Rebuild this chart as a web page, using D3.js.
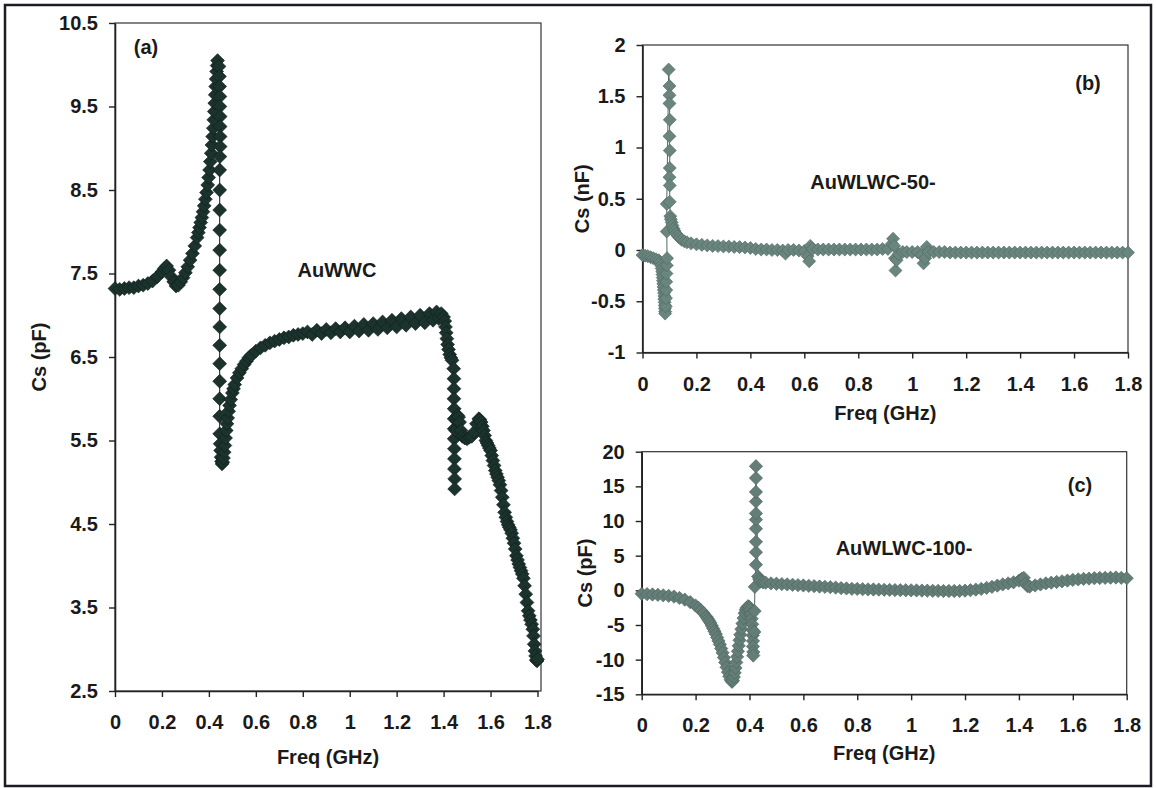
<!DOCTYPE html>
<html>
<head>
<meta charset="utf-8">
<script src="https://cdn.jsdelivr.net/npm/d3@7"></script>
<style>
  body { margin: 0; background: #fff; }
  svg text { font-family: "Liberation Sans", Arial, sans-serif; font-weight: bold; fill: #1a1a1a; }
</style>
</head>
<body>
<svg width="1156" height="788"></svg>
<script>
// ---- data ----
const freqTicks = [0, 0.2, 0.4, 0.6, 0.8, 1, 1.2, 1.4, 1.6, 1.8];

// (a) AuWWC, Cs in pF
const yTicksA = [2.5, 3.5, 4.5, 5.5, 6.5, 7.5, 8.5, 9.5, 10.5];
const freqA = [0, 0.02, 0.04, 0.06, 0.08, 0.10, 0.12, 0.14, 0.16, 0.18, 0.20, 0.21, 0.22, 0.23, 0.24, 0.25, 0.26, 0.27, 0.28, 0.29,
  0.30, 0.31, 0.32, 0.33, 0.34, 0.35, 0.355, 0.36, 0.365, 0.37, 0.375, 0.38, 0.385, 0.39, 0.395, 0.399, 0.403, 0.406, 0.41,
  0.413, 0.416, 0.419, 0.421, 0.423, 0.425, 0.427, 0.429, 0.431, 0.433, 0.435, 0.437,
  0.443, 0.445, 0.446, 0.447, 0.447, 0.448, 0.448, 0.448, 0.448, 0.447,
  0.446, 0.446, 0.446, 0.446, 0.446, 0.446, 0.446, 0.446, 0.446, 0.446, 0.446, 0.446, 0.446, 0.446, 0.446,
  0.448, 0.450, 0.452, 0.454, 0.456, 0.459, 0.462, 0.465, 0.468, 0.471, 0.474, 0.477, 0.48, 0.484, 0.488, 0.493, 0.50, 0.505,
  0.51, 0.52, 0.53, 0.54, 0.55, 0.56, 0.57,
  0.58, 0.60, 0.62, 0.64, 0.66, 0.68, 0.70, 0.72, 0.74, 0.76, 0.78, 0.80, 0.82, 0.84, 0.86, 0.88, 0.90, 0.92, 0.94, 0.96, 0.98,
  1.00, 1.02, 1.04, 1.06, 1.08, 1.10, 1.12, 1.14, 1.16, 1.18, 1.20, 1.22, 1.24, 1.26, 1.28, 1.30, 1.32, 1.34, 1.355, 1.37, 1.38,
  1.39, 1.40, 1.405, 1.408, 1.411, 1.414, 1.417, 1.421, 1.426, 1.431, 1.436,
  1.443, 1.444, 1.444, 1.444, 1.445, 1.445, 1.445, 1.445, 1.446, 1.446, 1.446, 1.447, 1.447,
  1.452, 1.456, 1.460, 1.464, 1.468, 1.474, 1.48, 1.49, 1.50, 1.51, 1.52, 1.53, 1.54, 1.55, 1.555, 1.56, 1.565, 1.57, 1.575,
  1.58, 1.585, 1.59, 1.595, 1.60, 1.605, 1.61, 1.615, 1.62, 1.625, 1.63, 1.635, 1.64, 1.645, 1.65, 1.655, 1.66, 1.665, 1.67,
  1.675, 1.68, 1.685, 1.69, 1.695, 1.70, 1.705, 1.71, 1.715, 1.72, 1.725, 1.73, 1.735, 1.74, 1.745, 1.75, 1.755, 1.76, 1.765,
  1.77, 1.775, 1.78, 1.783, 1.786, 1.789, 1.792, 1.795, 1.798, 1.80];
const csA = [7.32, 7.31, 7.32, 7.33, 7.33, 7.35, 7.36, 7.38, 7.41, 7.46, 7.52, 7.56, 7.59, 7.54, 7.46, 7.40, 7.35, 7.36, 7.40, 7.45,
  7.51, 7.58, 7.66, 7.74, 7.83, 7.93, 7.99, 8.05, 8.11, 8.17, 8.24, 8.31, 8.39, 8.47, 8.56, 8.65, 8.74, 8.84, 8.94,
  9.04, 9.14, 9.24, 9.34, 9.44, 9.54, 9.64, 9.74, 9.83, 9.92, 9.99, 10.05,
  9.98, 9.86, 9.74, 9.62, 9.50, 9.38, 9.26, 9.14, 9.02, 8.90,
  8.74, 8.50, 8.26, 8.02, 7.78, 7.54, 7.31, 7.08, 6.86, 6.64, 6.42, 6.21, 6.00, 5.79, 5.58,
  5.46, 5.38, 5.30, 5.25, 5.22, 5.24, 5.29, 5.36, 5.44, 5.53, 5.62, 5.70, 5.77, 5.85, 5.92, 5.99, 6.07, 6.12,
  6.17, 6.25, 6.31, 6.36, 6.41, 6.45, 6.49,
  6.52, 6.57, 6.61, 6.64, 6.67, 6.69, 6.71, 6.73, 6.74, 6.76, 6.77, 6.78, 6.80, 6.77, 6.82, 6.78, 6.83, 6.79, 6.84, 6.80, 6.85,
  6.80, 6.87, 6.81, 6.89, 6.82, 6.90, 6.83, 6.92, 6.85, 6.94, 6.86, 6.96, 6.88, 6.98, 6.90, 7.00, 6.91, 7.02, 6.94, 7.04, 6.96,
  7.02, 6.98, 6.93, 6.86, 6.79, 6.72, 6.65, 6.59, 6.53, 6.49, 6.46,
  6.36, 6.24, 6.12, 6.00, 5.88, 5.76, 5.64, 5.52, 5.40, 5.28, 5.16, 5.04, 4.92,
  5.62, 5.74, 5.80, 5.78, 5.72, 5.62, 5.55, 5.53, 5.52, 5.54, 5.55, 5.60, 5.70, 5.76, 5.75, 5.72, 5.67, 5.62, 5.56,
  5.50, 5.47, 5.44, 5.41, 5.38, 5.32, 5.26, 5.20, 5.14, 5.10, 5.06, 5.02, 4.97, 4.90, 4.82, 4.73, 4.64, 4.58, 4.53,
  4.49, 4.46, 4.43, 4.39, 4.33, 4.27, 4.20, 4.12, 4.07, 4.02, 3.98, 3.94, 3.90, 3.85, 3.76, 3.66, 3.56, 3.46, 3.40,
  3.35, 3.30, 3.24, 3.16, 3.06, 2.98, 2.92, 2.87, 2.86, 2.88];

// (b) AuWLWC-50-, Cs in nF
const yTicksB = [-1, -0.5, 0, 0.5, 1, 1.5, 2];
const freqB = [0, 0.01, 0.02, 0.03, 0.04, 0.05, 0.06, 0.066, 0.069, 0.071, 0.073, 0.074, 0.075, 0.076, 0.077, 0.078, 0.079,
  0.080, 0.081, 0.081, 0.082, 0.083, 0.083, 0.084, 0.084, 0.086, 0.087, 0.088, 0.088, 0.089, 0.090, 0.091,
  0.090, 0.090, 0.097, 0.100, 0.100, 0.100, 0.101, 0.100, 0.101, 0.101, 0.100, 0.101, 0.101,
  0.103, 0.105, 0.108, 0.111, 0.115, 0.119, 0.124, 0.130, 0.137, 0.145, 0.155, 0.165, 0.18, 0.20, 0.22, 0.24, 0.26, 0.28, 0.30,
  0.32, 0.34, 0.36, 0.38, 0.40, 0.42, 0.44, 0.46, 0.48, 0.50, 0.52, 0.53, 0.54, 0.56, 0.58, 0.60, 0.612, 0.618, 0.622, 0.63,
  0.65, 0.67, 0.69, 0.71, 0.73, 0.75, 0.77, 0.79, 0.81, 0.83, 0.85, 0.87, 0.89, 0.91, 0.925, 0.929, 0.933, 0.936, 0.938, 0.942,
  0.95, 0.965, 0.98, 1.00, 1.02, 1.035, 1.042, 1.048, 1.054, 1.06, 1.08, 1.10, 1.12, 1.14, 1.16, 1.18, 1.20, 1.22, 1.24, 1.26,
  1.28, 1.30, 1.32, 1.34, 1.36, 1.38, 1.40, 1.42, 1.44, 1.46, 1.48, 1.50, 1.52, 1.54, 1.56, 1.58, 1.60, 1.62, 1.64, 1.66, 1.68,
  1.70, 1.72, 1.74, 1.76, 1.78, 1.80];
const csB = [-0.05, -0.055, -0.06, -0.07, -0.08, -0.09, -0.10, -0.12, -0.15, -0.18, -0.21, -0.24, -0.27, -0.30, -0.33, -0.36, -0.39,
  -0.42, -0.45, -0.48, -0.51, -0.54, -0.57, -0.60, -0.62, -0.55, -0.47, -0.39, -0.31, -0.23, -0.15, -0.08,
  0.18, 0.45, 1.76, 1.60, 1.51, 1.43, 1.27, 1.11, 0.97, 0.80, 0.71, 0.63, 0.47,
  0.33, 0.30, 0.27, 0.24, 0.21, 0.185, 0.16, 0.14, 0.12, 0.10, 0.085, 0.075, 0.065, 0.055, 0.05, 0.045, 0.04, 0.038, 0.035,
  0.033, 0.03, 0.028, 0.025, 0.02, 0.01, 0.005, 0.005, 0, 0, -0.005, -0.035, 0, 0, -0.005, -0.01, -0.06, -0.11, 0.04, 0.01,
  0.005, 0.005, 0.005, 0.005, 0.005, 0.005, 0.005, 0.005, 0.005, 0.005, 0.005, 0.005, 0.01, 0.01, 0.06, 0.11, 0.04, -0.08, -0.20, -0.10,
  -0.04, -0.02, -0.02, -0.02, -0.02, -0.05, -0.13, -0.08, 0.03, -0.02, -0.02, -0.02, -0.02, -0.025, -0.025, -0.025, -0.025, -0.025, -0.025, -0.025,
  -0.025, -0.025, -0.025, -0.025, -0.025, -0.025, -0.025, -0.025, -0.025, -0.025, -0.025, -0.025, -0.025, -0.025, -0.025, -0.025, -0.025, -0.025, -0.025, -0.025, -0.025,
  -0.025, -0.025, -0.025, -0.025, -0.025, -0.025];

// (c) AuWLWC-100-, Cs in pF
const yTicksC = [-15, -10, -5, 0, 5, 10, 15, 20];
const freqC = [0, 0.02, 0.04, 0.06, 0.08, 0.10, 0.12, 0.14, 0.16, 0.18, 0.20, 0.21, 0.22, 0.23, 0.24, 0.245, 0.25, 0.255, 0.26,
  0.265, 0.27, 0.275, 0.28, 0.285, 0.29, 0.295, 0.30, 0.305, 0.31, 0.315, 0.32, 0.325, 0.33, 0.335, 0.339, 0.342, 0.345, 0.348,
  0.351, 0.354, 0.357, 0.36, 0.363, 0.366, 0.37, 0.374, 0.378, 0.382, 0.386, 0.39, 0.395, 0.40, 0.403, 0.406, 0.408, 0.41,
  0.411, 0.412, 0.413, 0.413, 0.414, 0.414,
  0.418, 0.419, 0.420, 0.424, 0.424, 0.424, 0.424, 0.424, 0.424, 0.424, 0.424, 0.424, 0.424,
  0.432, 0.436, 0.44, 0.45, 0.46, 0.48, 0.50, 0.52, 0.54, 0.56, 0.58, 0.60, 0.62, 0.64, 0.66, 0.68, 0.70, 0.72, 0.74, 0.76,
  0.78, 0.80, 0.82, 0.84, 0.86, 0.88, 0.90, 0.92, 0.94, 0.96, 0.98, 1.00, 1.02, 1.04, 1.06, 1.08, 1.10, 1.12, 1.14, 1.16,
  1.18, 1.20, 1.22, 1.24, 1.26, 1.28, 1.30, 1.32, 1.34, 1.36, 1.38, 1.40, 1.41, 1.418, 1.425, 1.432, 1.44, 1.46, 1.48, 1.50,
  1.52, 1.54, 1.56, 1.58, 1.60, 1.62, 1.64, 1.66, 1.68, 1.70, 1.72, 1.74, 1.76, 1.78, 1.80];
const csC = [-0.5, -0.55, -0.6, -0.65, -0.72, -0.8, -0.9, -1.1, -1.35, -1.7, -2.2, -2.5, -2.9, -3.3, -3.8, -4.1, -4.4, -4.7, -5.1,
  -5.5, -5.9, -6.3, -6.8, -7.3, -7.8, -8.4, -9.0, -9.7, -10.4, -11.1, -11.8, -12.4, -12.9, -13.2, -13.0, -12.5, -11.9, -11.2,
  -10.4, -9.6, -8.8, -8.0, -7.2, -6.4, -5.6, -4.8, -4.0, -3.3, -2.8, -2.5, -2.3, -2.4, -2.8, -3.4, -4.1, -4.9,
  -5.7, -6.5, -7.3, -8.1, -8.9, -9.4,
  -6.0, -3.0, 0.5, 3.7, 5.5, 7.0, 8.9, 10.2, 11.1, 12.8, 14.2, 16.2, 17.9,
  2.0, 1.6, 1.3, 1.15, 1.1, 1.0, 0.95, 0.9, 0.85, 0.8, 0.75, 0.7, 0.65, 0.6, 0.55, 0.5, 0.45, 0.4, 0.32, 0.27,
  0.22, 0.2, 0.16, 0.13, 0.12, 0.1, 0.08, 0.06, 0.04, 0.02, 0.01, 0, -0.02, -0.04, -0.05, -0.07, -0.08, -0.1, -0.1, -0.1,
  -0.08, -0.05, 0.02, 0.1, 0.2, 0.35, 0.5, 0.68, 0.85, 1.0, 1.15, 1.4, 1.65, 1.8, 1.0, 0.6, 0.55, 0.7, 0.85, 1.0,
  1.1, 1.2, 1.3, 1.4, 1.5, 1.58, 1.65, 1.7, 1.75, 1.78, 1.8, 1.82, 1.85, 1.8, 1.75];

// ---- layout ----
const panels = [
  { freq: freqA, cs: csA, yTicks: yTicksA, yDomain: [2.5, 10.5], left: 115, right: 537.5, frameRight: 541, top: 23, bottom: 691,
    yLabel: "Cs (pF)", yLabelX: 39, xLabelY: 757, tag: "(a)", tagX: 146, tagY: 47, name: "AuWWC", nameX: 337, nameY: 270,
    fill: "#1b322d", stroke: "#0f1f1b", side: 9.8 },
  { freq: freqB, cs: csB, yTicks: yTicksB, yDomain: [-1, 2], left: 642.5, right: 1128, frameRight: 1128, top: 45, bottom: 352.5,
    yLabel: "Cs (nF)", yLabelX: 582, xLabelY: 413, tag: "(b)", tagX: 1088, tagY: 83, name: "AuWLWC-50-", nameX: 873, nameY: 182,
    fill: "#6a857e", stroke: "#4e6862", side: 9.2 },
  { freq: freqC, cs: csC, yTicks: yTicksC, yDomain: [-15, 20], left: 641.7, right: 1126.7, frameRight: 1126.7, top: 451.7, bottom: 694.3,
    yLabel: "Cs (pF)", yLabelX: 585, xLabelY: 753, tag: "(c)", tagX: 1080, tagY: 485, name: "AuWLWC-100-", nameX: 904, nameY: 548,
    fill: "#647d77", stroke: "#4b645e", side: 9.4 }
];

const svg = d3.select("svg");

// outer figure frame
svg.append("rect")
  .attr("x", 5).attr("y", 5).attr("width", 1146).attr("height", 781)
  .attr("fill", "none").attr("stroke", "#1c1c24").attr("stroke-width", 2.5);

panels.forEach(p => {
  const x = d3.scaleLinear().domain([0, 1.8]).range([p.left, p.right]);
  const y = d3.scaleLinear().domain(p.yDomain).range([p.bottom, p.top]);
  const pts = p.freq.map((f, i) => ({ f: f, v: p.cs[i] }));
  const g = svg.append("g");

  // plot area border
  g.append("rect")
    .attr("x", p.left).attr("y", p.top)
    .attr("width", p.frameRight - p.left).attr("height", p.bottom - p.top)
    .attr("fill", "none").attr("stroke", "#333").attr("stroke-width", 1.2);

  // axes
  const yAxis = g.append("g")
    .attr("transform", `translate(${p.left},0)`)
    .call(d3.axisLeft(y).tickValues(p.yTicks).tickSize(6).tickSizeOuter(0).tickPadding(11).tickFormat(d => String(d)));
  const xAxis = g.append("g")
    .attr("transform", `translate(0,${p.bottom})`)
    .call(d3.axisBottom(x).tickValues(freqTicks).tickSize(6).tickSizeOuter(0).tickPadding(18).tickFormat(d => String(d)));
  [yAxis, xAxis].forEach(a => {
    a.select(".domain").attr("stroke", "#222").attr("stroke-width", 1.6);
    a.selectAll(".tick line").attr("stroke", "#222").attr("stroke-width", 1.4);
    a.selectAll(".tick text").style("font-size", "20px").attr("fill", "#1a1a1a");
  });

  // thin connecting line
  g.append("path")
    .datum(pts)
    .attr("fill", "none")
    .attr("stroke", p.stroke)
    .attr("stroke-width", 1)
    .attr("d", d3.line().x(d => x(d.f)).y(d => y(d.v)));

  // diamond markers
  const diamond = d3.symbol().type(d3.symbolSquare).size(p.side * p.side);
  g.selectAll(".pt")
    .data(pts)
    .enter()
    .append("path")
    .attr("class", "pt")
    .attr("transform", d => `translate(${x(d.f)},${y(d.v)}) rotate(45)`)
    .attr("d", diamond)
    .attr("fill", p.fill)
    .attr("stroke", p.stroke)
    .attr("stroke-width", 0.6);

  // axis titles and labels
  g.append("text")
    .attr("transform", `translate(${p.yLabelX},${(p.top + p.bottom) / 2}) rotate(-90)`)
    .attr("text-anchor", "middle").attr("dy", "0.35em")
    .style("font-size", "20px")
    .text(p.yLabel);
  g.append("text")
    .attr("x", (p.left + p.frameRight) / 2).attr("y", p.xLabelY)
    .attr("text-anchor", "middle").attr("dy", "0.35em")
    .style("font-size", "20px")
    .text("Freq (GHz)");
  g.append("text")
    .attr("x", p.tagX).attr("y", p.tagY)
    .attr("text-anchor", "middle").attr("dy", "0.35em")
    .style("font-size", "20px")
    .text(p.tag);
  g.append("text")
    .attr("x", p.nameX).attr("y", p.nameY)
    .attr("text-anchor", "middle").attr("dy", "0.35em")
    .style("font-size", "20px")
    .text(p.name);
});
</script>
</body>
</html>
